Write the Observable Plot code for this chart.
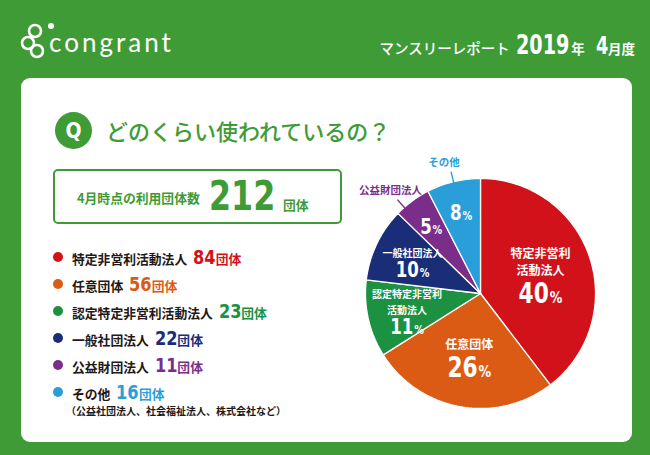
<!DOCTYPE html>
<html><head><meta charset="utf-8">
<script src="https://cdn.jsdelivr.net/npm/d3@7"></script>
<script src="https://cdn.jsdelivr.net/npm/@observablehq/plot@0.6"></script>
<style>
html,body{margin:0;padding:0;}
body{width:650px;height:455px;background:#3f9b36;position:relative;overflow:hidden;font-family:"Noto Sans CJK JP","Noto Sans",sans-serif;}
.abs{position:absolute;}
.num{font-family:"Liberation Sans Narrow","DejaVu Sans Condensed","Roboto",sans-serif;font-weight:700;display:inline-block;}
.card{left:21px;top:78px;width:611px;height:364px;background:#fff;border-radius:9px;}
.row{position:absolute;left:53px;display:flex;align-items:center;height:20px;transform:translateY(-50%);}
.dot{width:10px;height:10px;border-radius:50%;margin-right:9px;flex:none;}
.txt{display:flex;align-items:baseline;white-space:nowrap;}
.lbl{font-size:12.8px;font-weight:700;color:#231815;line-height:16px;}
.cnt{font-size:20px;margin-left:6px;line-height:18px;}
.unit{font-size:12.8px;font-weight:700;line-height:16px;}
</style></head>
<body>
<div class="abs card"></div>
<!-- header -->
<svg class="abs" style="left:0;top:0" width="60" height="70">
  <g fill="none" stroke="#fff" stroke-width="2.6">
    <circle cx="35" cy="31" r="6"/>
    <circle cx="28" cy="43" r="6"/>
    <circle cx="37" cy="51" r="6"/>
  </g>
  <circle cx="51" cy="26" r="3" fill="#fff"/>
</svg>
<div class="abs" id="logo" style="left:49px;top:27px;color:#fff;font-family:Lato,'Open Sans',sans-serif;font-weight:400;font-size:26px;letter-spacing:3px;line-height:30px;"></div>
<div class="abs" id="hdr" style="right:15px;top:30px;display:flex;align-items:baseline;color:#fff;white-space:nowrap;"></div>
<!-- question -->
<div class="abs" style="left:55px;top:112px;width:37px;height:37px;border-radius:50%;background:#3f9b36;color:#fff;display:flex;align-items:center;justify-content:center;"><span class="num" style="font-size:21px;">Q</span></div>
<div class="abs" id="question" style="left:106px;top:116px;color:#3f9b36;font-size:22px;font-weight:500;line-height:28px;white-space:nowrap;"></div>
<!-- total box -->
<div class="abs" id="totalBox" style="left:53px;top:169px;height:51px;border:2px solid #3f9b36;border-radius:5px;display:flex;align-items:baseline;color:#3f9b36;padding-left:22px;box-sizing:content-box;width:263px;"></div>
<div id="legend"></div>
<div class="abs" id="pie" style="left:340px;top:150px;"></div>
<script>
// ---- data ----
const categories = ["特定非営利活動法人", "任意団体", "認定特定非営利活動法人", "一般社団法人", "公益財団法人", "その他"];
const counts = [84, 56, 23, 22, 11, 16];
const colors = ["#d1121b", "#dc5b14", "#1b9141", "#1a2e78", "#7a2e8a", "#2a9ed9"];
const pieNames = ["特定非営利\n活動法人", "任意団体", "認定特定非営利\n活動法人", "一般社団法人", "公益財団法人", "その他"];
const unitText = "団体";
const otherNote = "（公益社団法人、社会福祉法人、株式会社など）";
const totalLabel = "4月時点の利用団体数";
const totalCount = 212;
const questionText = "どのくらい使われているの？";
const brand = "congrant";
const reportName = "マンスリーレポート";
const reportYear = "2019";
const reportMonth = "4";

// ---- header ----
document.getElementById("logo").textContent = brand;
document.getElementById("hdr").innerHTML =
  `<span style="font-size:14.5px;font-weight:500">${reportName}</span>` +
  `<span class="num" data-k="0.82" style="font-size:26px;margin-left:6px">${reportYear}</span>` +
  `<span style="font-size:13.5px;font-weight:700;margin-left:2px">年</span>` +
  `<span class="num" data-k="0.82" style="font-size:24px;margin-left:11px">${reportMonth}</span>` +
  `<span style="font-size:13.5px;font-weight:700">月度</span>`;
document.getElementById("question").textContent = questionText;
document.getElementById("totalBox").innerHTML =
  `<span style="font-size:12.8px;font-weight:700;position:relative;top:-7px;line-height:51px">${totalLabel}</span>` +
  `<span class="num" data-k="0.86" style="font-size:41px;margin-left:9px;line-height:51px">${totalCount}</span>` +
  `<span style="font-size:12.8px;font-weight:700;margin-left:8px">${unitText}</span>`;

// ---- legend ----
const legend = document.getElementById("legend");
categories.forEach((c, i) => {
  const row = document.createElement("div");
  row.className = "row";
  row.style.top = (257 + i * 27) + "px";
  row.innerHTML = `<span class="dot" style="background:${colors[i]}"></span>` +
    `<span class="txt"><span class="lbl">${c}</span>` +
    `<span class="num cnt" data-k="0.9" style="color:${colors[i]}">${counts[i]}</span>` +
    `<span class="unit" style="color:${colors[i]}">${unitText}</span></span>`;
  legend.appendChild(row);
});
const note = document.createElement("div");
note.className = "abs";
note.style.cssText = "left:66px;top:405px;font-size:10px;font-weight:700;color:#231815;line-height:12px;white-space:nowrap;";
note.textContent = otherNote;
legend.appendChild(note);

// condense the number font
document.querySelectorAll(".num[data-k]").forEach(el => {
  const k = +el.dataset.k;
  const w = el.getBoundingClientRect().width;
  const mr = parseFloat(getComputedStyle(el).marginRight) || 0;
  el.style.transformOrigin = "left center";
  el.style.transform = `scaleX(${k})`;
  el.style.marginRight = (mr - w * (1 - k)) + "px";
});

// ---- pie ----
const R = 115, W = 280, H = 270, CX = 140, CY = 143;
const PX = 1 / R;
const TAU = 2 * Math.PI;
const total = d3.sum(counts);
let acc = 0;
const slices = categories.map((cat, i) => {
  const a0 = acc / total * TAU; acc += counts[i]; const a1 = acc / total * TAU;
  const share = counts[i] / total;
  return {cat, i, a0, a1, mid: (a0 + a1) / 2, share, pct: Math.round(share * 100)};
});
const outline = slices.flatMap(s => {
  const n = Math.max(6, Math.ceil((s.a1 - s.a0) / TAU * 240));
  const pts = [{cat: s.cat, x: 0, y: 0}];
  for (let k = 0; k <= n; k++) {
    const a = s.a0 + (s.a1 - s.a0) * k / n;
    pts.push({cat: s.cat, x: Math.sin(a), y: Math.cos(a)});
  }
  return pts;
});
const bigNames = [], smallNames = [], pcts = [], leaders = [], outNames = [];
slices.forEach(s => {
  const big = s.share > 0.2, outside = s.share < 0.09;
  const r = big ? 0.55 : outside ? 0.72 : 0.655;
  const cx = Math.sin(s.mid) * r, cy = Math.cos(s.mid) * r;
  const lines = outside ? 0 : pieNames[s.i].split("\n").length;
  const Ln = big ? 17.5 : 16, Gp = big ? 24.5 : 18.5;
  const span = lines ? (lines - 1) * Ln + Gp : 0;
  const top = -span / 2;
  if (lines) {
    const nameC = top + (lines - 1) * Ln / 2;
    (big ? bigNames : smallNames).push({x: cx, y: cy - nameC * PX, text: pieNames[s.i]});
  }
  pcts.push({x: cx, y: cy - (top + span) * PX, text: s.pct + "%", size: big ? 27.5 : 21});
  if (outside) {
    const a = s.mid + (s.share < 0.06 ? -5 : 0) * Math.PI / 180;
    const x1 = Math.sin(a) * 1.09, y1 = Math.cos(a) * 1.09;
    leaders.push({cat: s.cat, x1, y1, x2: Math.sin(a) * 0.955, y2: Math.cos(a) * 0.955});
    outNames.push({cat: s.cat, x: x1 - 7 * PX, y: y1 + 9.5 * PX, text: pieNames[s.i]});
  }
});
const numFont = '"Liberation Sans Narrow","DejaVu Sans Condensed",Roboto,sans-serif';
const jpFont = '"Noto Sans CJK JP",sans-serif';
const chart = Plot.plot({
  width: W, height: H, margin: 0,
  x: {domain: [-CX / R, (W - CX) / R], axis: null},
  y: {domain: [-(H - CY) / R, CY / R], axis: null},
  color: {domain: categories, range: colors},
  style: {background: "transparent", fontFamily: jpFont, overflow: "visible"},
  marks: [
    Plot.line(outline, {x: "x", y: "y", z: "cat", fill: "cat", stroke: "#fff", strokeWidth: 1.3, strokeLinejoin: "round", curve: "linear-closed"}),
    Plot.link(leaders, {x1: "x1", y1: "y1", x2: "x2", y2: "y2", stroke: "cat", strokeWidth: 1.4}),
    Plot.text(outNames, {x: "x", y: "y", text: "text", fill: "cat", fontSize: 10.5, fontWeight: 700, fontFamily: jpFont}),
    Plot.text(bigNames, {x: "x", y: "y", text: "text", fill: "white", fontSize: 12, lineHeight: 17.5 / 12, fontWeight: 700, fontFamily: jpFont}),
    Plot.text(smallNames, {x: "x", y: "y", text: "text", fill: "white", fontSize: 10, lineHeight: 1.6, fontWeight: 700, fontFamily: jpFont}),
    Plot.text(pcts, {x: "x", y: "y", text: "text", fill: "white", fontSize: "size", fontWeight: 700, fontFamily: numFont})
  ]
});
d3.select(chart).selectAll("text").each(function() {
  const t = this.textContent;
  const m = /^(\d+)%$/.exec(t);
  if (m) {
    const sel = d3.select(this);
    sel.text(null);
    sel.append("tspan").text(m[1]);
    sel.append("tspan").attr("font-size", "0.58em").attr("dx", "1").text("%");
    const k = 0.88;
    const tr = this.getAttribute("transform");
    if (tr) this.setAttribute("transform", tr + ` scale(${k},1)`);
    else {
      const x = +this.getAttribute("x") || 0, y = +this.getAttribute("y") || 0;
      this.removeAttribute("x"); this.removeAttribute("y");
      this.setAttribute("transform", `translate(${x},${y}) scale(${k},1)`);
    }
  }
});
document.getElementById("pie").appendChild(chart);
</script>
</body></html>
